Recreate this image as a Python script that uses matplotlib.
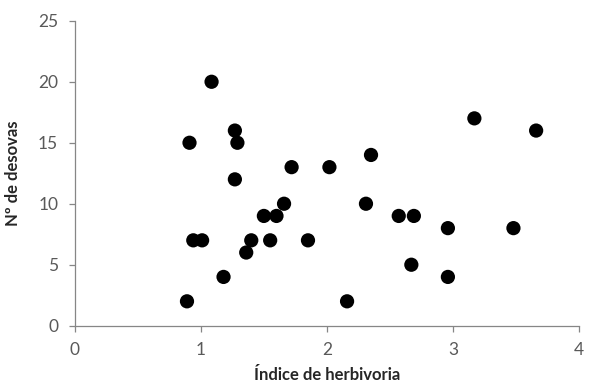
import matplotlib
matplotlib.use("Agg")
import matplotlib.pyplot as plt

# data
herbivoria = [1.085, 0.91, 1.27, 1.29, 1.27, 1.72, 2.02, 1.66, 1.50, 1.60,
              0.94, 1.01, 1.40, 1.55, 1.85, 1.36, 1.18, 0.89, 2.16,
              3.17, 3.66, 2.35, 2.31, 2.57, 2.69, 2.96, 3.48, 2.67, 2.96]
desovas = [20, 15, 16, 15, 12, 13, 13, 10, 9, 9,
           7, 7, 7, 7, 7, 6, 4, 2, 2,
           17, 16, 14, 10, 9, 9, 8, 8, 5, 4]
x_ticks = [0, 1, 2, 3, 4]
y_ticks = [0, 5, 10, 15, 20, 25]

AXC = "#868686"
TXT = "#595959"
plt.rcParams["font.family"] = ["Lato", "DejaVu Sans"]

fig = plt.figure(figsize=(5.89, 3.85), dpi=100)
ax = fig.add_axes([0.127, 0.154, 0.856, 0.792])
ax.scatter(herbivoria, desovas, s=105, color="black", edgecolors="none", zorder=3)

ax.set_xlim(0, 4); ax.set_ylim(0, 25)
ax.set_xticks(x_ticks); ax.set_yticks(y_ticks)
ax.spines[["top", "right"]].set_visible(False)
for s in ("left", "bottom"):
    ax.spines[s].set_color(AXC)
    ax.spines[s].set_linewidth(0.9)
ax.tick_params(colors=AXC, labelcolor=TXT, labelsize=12.5, length=4, width=0.9)
ax.tick_params(axis="x", pad=8)
ax.tick_params(axis="y", pad=8)
ax.set_xlabel("Índice de herbivoria", fontsize=12, fontweight="bold",
              color="#262626", labelpad=6)
ax.set_ylabel("Nº de desovas", fontsize=12, fontweight="bold",
              color="#262626", labelpad=12)
fig.savefig("out.png", dpi=100)
